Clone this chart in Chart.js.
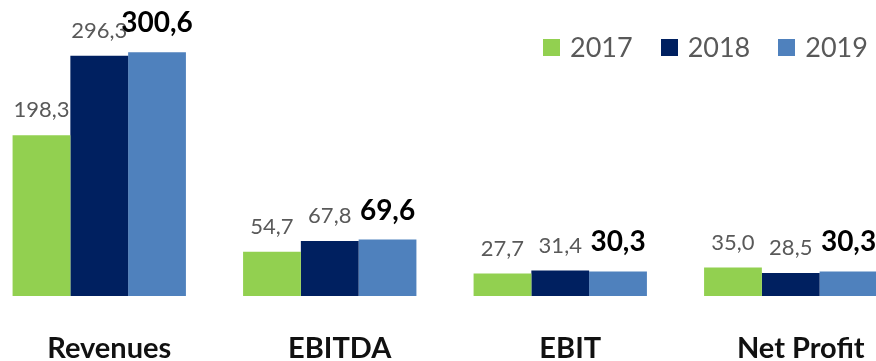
<!DOCTYPE html>
<html>
<head>
<meta charset="utf-8">
<script src="https://cdn.jsdelivr.net/npm/chart.js@4.4.0/dist/chart.umd.min.js"></script>
<style>
  html, body { margin: 0; padding: 0; background: #fff; overflow: hidden; }
  body { width: 876px; height: 361px; position: relative; font-family: Lato, sans-serif; }
  #wrap { position: absolute; left: -16px; top: 0; width: 922px; height: 361px; }
  #legend { position: absolute; left: 543px; top: 30px; display: flex; align-items: center; }
  #legend .item { display: flex; align-items: center; margin-right: 28px; }
  #legend .box { width: 17px; height: 17px; margin-right: 10px; }
  #legend .txt { font-size: 27px; color: #595959; line-height: 34px; }
</style>
</head>
<body>
<div id="wrap"><canvas id="chart"></canvas></div>
<div id="legend"></div>
<script>
const categories = ['Revenues', 'EBITDA', 'EBIT', 'Net Profit'];
const years = ['2017', '2018', '2019'];
const values2017 = [198.3, 54.7, 27.7, 35.0];
const values2018 = [296.3, 67.8, 31.4, 28.5];
const values2019 = [300.6, 69.6, 30.3, 30.3];
const colors = ['#92D050', '#002060', '#4F81BD'];

Chart.defaults.font.family = 'Lato, sans-serif';

const fmt = v => v.toFixed(1).replace('.', ',');

// value labels over each bar, latest year in bold
const valueLabels = {
  id: 'valueLabels',
  afterDatasetsDraw(chart) {
    const ctx = chart.ctx;
    ctx.save();
    ctx.textAlign = 'center';
    ctx.textBaseline = 'alphabetic';
    chart.data.datasets.forEach((ds, i) => {
      const last = i === chart.data.datasets.length - 1;
      ctx.font = last ? 'bold 28px Lato, sans-serif' : '22px Lato, sans-serif';
      ctx.fillStyle = last ? '#000000' : '#595959';
      chart.getDatasetMeta(i).data.forEach((bar, j) => {
        ctx.fillText(fmt(ds.data[j]), bar.x, bar.y - (last ? 20 : 18));
      });
    });
    ctx.restore();
  }
};

const chart = new Chart(document.getElementById('chart'), {
  type: 'bar',
  data: {
    labels: categories,
    datasets: [values2017, values2018, values2019].map((d, i) => ({
      label: years[i],
      data: d,
      backgroundColor: colors[i],
      barPercentage: 1,
      categoryPercentage: 0.752
    }))
  },
  options: {
    responsive: true,
    maintainAspectRatio: false,
    animation: false,
    plugins: {
      legend: { display: false },
      tooltip: { enabled: false }
    },
    scales: {
      x: {
        grid: { display: false, drawTicks: false },
        border: { display: false },
        ticks: {
          color: '#111111',
          font: { size: 29, weight: 'bold' },
          padding: 35,
          labelOffset: 10
        },
        afterFit: s => { s.height = 65; }
      },
      y: {
        display: false,
        min: 0,
        max: 365
      }
    }
  },
  plugins: [valueLabels]
});

// legend
const legend = document.getElementById('legend');
chart.data.datasets.forEach(ds => {
  const item = document.createElement('div');
  item.className = 'item';
  item.innerHTML = `<span class="box" style="background:${ds.backgroundColor}"></span><span class="txt">${ds.label}</span>`;
  legend.appendChild(item);
});
</script>
</body>
</html>
